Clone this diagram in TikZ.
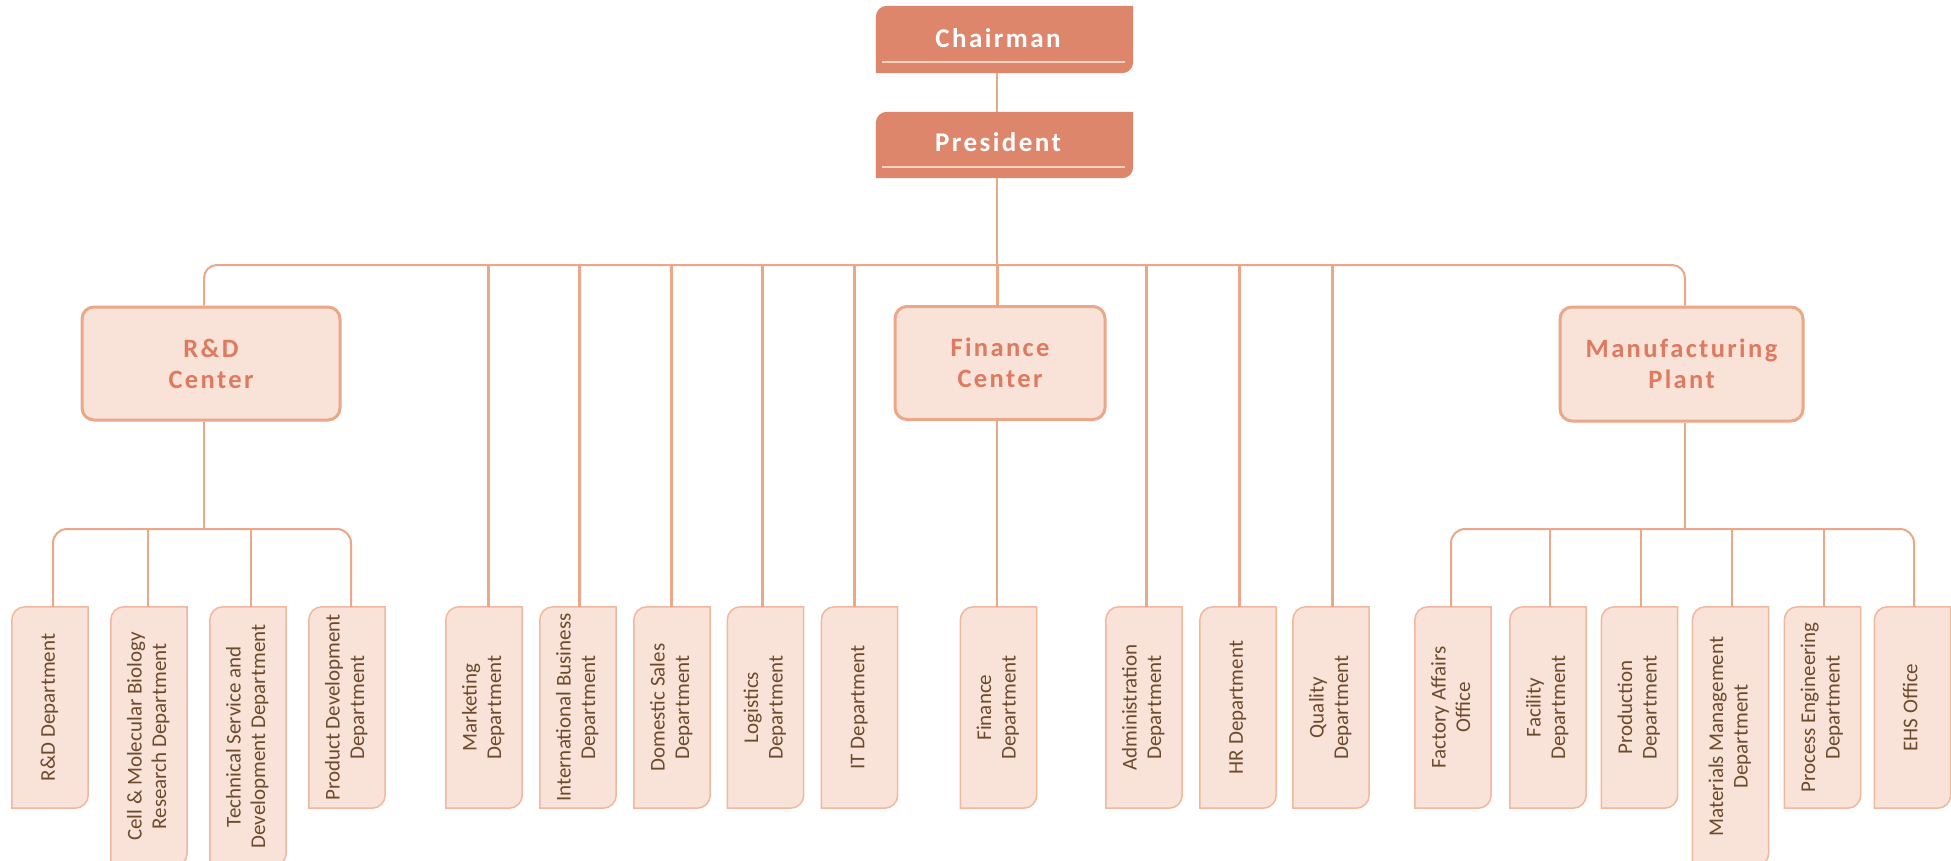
\documentclass[tikz,border=0pt]{standalone}
\usepackage{fontspec}
\setmainfont{Carlito}
\newfontfamily\hdfont[LetterSpace=9]{Carlito}
\definecolor{linec}{RGB}{236,166,136}
\definecolor{leafline}{RGB}{241,184,158}
\definecolor{boxfill}{RGB}{249,226,215}
\definecolor{topfill}{RGB}{221,134,108}
\definecolor{toptextline}{RGB}{246,208,192}
\definecolor{midtext}{RGB}{222,122,95}
\definecolor{leaftext}{RGB}{108,74,44}
\pgfdeclarelayer{bg}
\pgfsetlayers{bg,main}
\newcommand\lt[1]{\rotatebox{90}{\begin{tabular}{@{}c@{}}#1\end{tabular}}}
\newcommand\cbox[3]{%
\begin{pgfonlayer}{bg}
\path[#3] (#1.south west) -- ([yshift=-#2]#1.north west)
  .. controls ([yshift=-0.45*#2]#1.north west) and ([xshift=0.45*#2]#1.north west) .. ([xshift=#2]#1.north west)
  -- (#1.north east) -- ([yshift=#2]#1.south east)
  .. controls ([yshift=0.45*#2]#1.south east) and ([xshift=-0.45*#2]#1.south east) .. ([xshift=-#2]#1.south east)
  -- cycle;
\end{pgfonlayer}}
\tikzset{
  topbox/.style={minimum width=257pt, minimum height=67pt, inner sep=0pt},
  toptext/.style={font=\hdfont\bfseries\fontsize{27}{30}\selectfont, text=white, inner sep=0pt},
  midbox/.style={draw=linec, line width=3pt, fill=boxfill, rounded corners=12pt, inner sep=0pt, align=center,
     font=\hdfont\bfseries\fontsize{26.5}{31}\selectfont, text=midtext},
  leaf/.style={minimum width=76pt, minimum height=201pt, inner sep=0pt, text=leaftext,
     font=\fontsize{21}{24.5}\selectfont},
  longleaf/.style={leaf, minimum height=259pt},
  leafshape/.style={fill=boxfill, draw=leafline, line width=1.5pt},
  topshape/.style={fill=topfill},
  conn/.style={draw=linec, line width=2pt},
  drop/.style={draw=linec, line width=3pt},
  wline/.style={draw=toptextline, line width=2.5pt}
}
\begin{document}
\begin{tikzpicture}[x=1pt, y=-1pt]
\clip (0,0) rectangle (1951,860);
\useasboundingbox (0,0) rectangle (1951,860);

% top boxes
\node[topbox] (chair) at (1004.5,39.5) {};
\node[toptext] (chairT) at (998,38) {Chairman};
\cbox{chair}{11pt}{topshape}
\draw[wline] ([shift={(6,-11)}]chair.south west) -- ([shift={(-8,-11)}]chair.south east);

\node[topbox, minimum height=66pt] (pres) at (1004.5,145) {};
\node[toptext] (presT) at (998,142) {President};
\cbox{pres}{11pt}{topshape}
\draw[wline] ([shift={(6,-11)}]pres.south west) -- ([shift={(-8,-11)}]pres.south east);

% middle level
\node[midbox, minimum width=258pt, minimum height=113pt] (rdc) at (211,363.5) {R\&D\\Center};
\node[midbox, minimum width=210pt, minimum height=113pt] (finc) at (1000,363) {Finance\\Center};
\node[midbox, minimum width=243pt, minimum height=114pt] (mfg) at (1681.5,364) {Manufacturing\\Plant};

% leaves
\node[leaf] (l1) at (50,707.5) {\lt{R\&D Department}};
\node[longleaf] (l2) at (149,736.5) {\lt{Cell \& Molecular Biology\\Research Department}};
\node[longleaf] (l3) at (248,736.5) {\lt{Technical Service and\\Development Department}};
\node[leaf] (l4) at (347,707.5) {\lt{Product Development\\Department}};
\node[leaf] (m1) at (484,707.5) {\lt{Marketing\\Department}};
\node[leaf] (m2) at (578,707.5) {\lt{International Business\\Department}};
\node[leaf] (m3) at (672,707.5) {\lt{Domestic Sales\\Department}};
\node[leaf] (m4) at (765.5,707.5) {\lt{Logistics\\Department}};
\node[leaf] (m5) at (859.5,707.5) {\lt{IT Department}};
\node[leaf] (f1) at (998.5,707.5) {\lt{Finance\\Department}};
\node[leaf] (m6) at (1144,707.5) {\lt{Administration\\Department}};
\node[leaf] (m7) at (1238,707.5) {\lt{HR Department}};
\node[leaf] (m8) at (1331,707.5) {\lt{Quality\\Department}};
\node[leaf] (p1) at (1453,707.5) {\lt{Factory Affairs\\Office}};
\node[leaf] (p2) at (1548,707.5) {\lt{Facility\\Department}};
\node[leaf] (p3) at (1639.5,707.5) {\lt{Production\\Department}};
\node[longleaf] (p4) at (1730.5,736.5) {\lt{Materials Management\\Department}};
\node[leaf] (p5) at (1822.5,707.5) {\lt{Process Engineering\\Department}};
\node[leaf] (p6) at (1912.5,707.5) {\lt{EHS Office}};
\foreach \n in {l1,l2,l3,l4,m1,m2,m3,m4,m5,f1,m6,m7,m8,p1,p2,p3,p4,p5,p6}{\cbox{\n}{13pt}{leafshape}}

% coordinates on buses
\coordinate (tb) at (997,265);
\coordinate (tbL) at (204,265);
\coordinate (tbR) at (1685,265);
\coordinate (rb) at (204,529);
\coordinate (rbL) at (53,529);
\coordinate (rbR) at (351,529);
\coordinate (pb) at (1685,529);
\coordinate (pbL) at (1451,529);
\coordinate (pbR) at (1914,529);

% connectors top
\draw[conn] (chair.south -| tb) -- (pres.north -| tb);
\draw[conn] (pres.south -| tb) -- (tb);
\draw[conn, rounded corners=13pt] (rdc.north -| tbL) -- (tbL) -- (tbR) -- (mfg.north -| tbR);
\draw[drop] (tb) -- (finc.north -| tb);
\draw[conn] (finc.south -| tb) -- (f1.north -| tb);
\foreach \n/\x in {m1/488,m2/579,m3/671,m4/762,m5/854,m6/1146,m7/1239,m8/1332}{
  \draw[drop] (\x,265) -- (\n.north -| \x,0);
}

% R&D sub-tree
\draw[conn] (rdc.south -| rb) -- (rb);
\draw[conn, rounded corners=14pt] (l1.north -| rbL) -- (rbL) -- (rbR) -- (l4.north -| rbR);
\draw[conn] (148,529) -- (l2.north -| 148,0);
\draw[conn] (251,529) -- (l3.north -| 251,0);

% Manufacturing sub-tree
\draw[conn] (mfg.south -| pb) -- (pb);
\draw[conn, rounded corners=14pt] (p1.north -| pbL) -- (pbL) -- (pbR) -- (p6.north -| pbR);
\foreach \n/\x in {p2/1550,p3/1641,p4/1732,p5/1824}{
  \draw[conn] (\x,529) -- (\n.north -| \x,0);
}
\end{tikzpicture}
\end{document}
